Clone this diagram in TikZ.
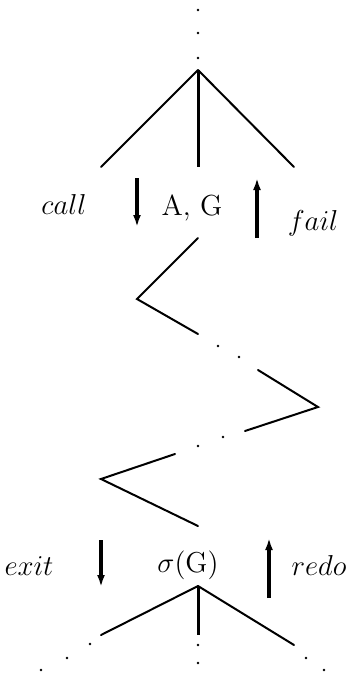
\documentclass[tikz,border=0pt]{standalone}
\usepackage{tikz}
\usetikzlibrary{arrows.meta}

\begin{document}
\begin{tikzpicture}[x=0.5pt, y=-0.5pt,
    leg/.style={line width=1pt, line cap=round},
    stem/.style={line width=1.5pt},
    flow/.style={-{Latex[length=6pt, width=4pt]}, line width=1.6pt},
    port/.style={font=\fontsize{14.5}{17}\selectfont, anchor=base, inner sep=0pt},
    dot/.style={circle, fill=black, inner sep=0pt, minimum size=1.3pt}
]
\useasboundingbox (0,0) rectangle (346,675);

% upper tree
\node[dot] (u1) at (198,10) {};
\node[dot] (u2) at (198,33) {};
\node[dot] (u3) at (198,58) {};
\coordinate (top) at (198,70);
\coordinate (topl) at (101,167);
\coordinate (topm) at (198,167);
\coordinate (topr) at (294,167);
\draw[leg] (top) -- (topl);
\draw[leg] (top) -- (topr);
\draw[stem] (top) -- (topm);

% call / fail port
\node[port] (call) at (64,214) {$call$};
\node[port] (goal) at (192,215) {A, G};
\node[port] (fail) at (313,230) {$fail$};
\coordinate (calla) at (137,178);
\coordinate (callb) at (137,227);
\coordinate (faila) at (257,238);
\coordinate (failb) at (257,178);
\draw[flow] (calla) -- (callb);
\draw[flow] (faila) -- (failb);

% zigzag
\coordinate (z1) at (198,238);
\coordinate (z2) at (137,299);
\coordinate (z3) at (198,334);
\draw[leg] (z1) -- (z2) -- (z3);
\node[dot] (d1) at (218,346) {};
\node[dot] (d2) at (239,357) {};
\coordinate (z4) at (258,370);
\coordinate (z5) at (318,407);
\coordinate (z6) at (245,431);
\draw[leg] (z4) -- (z5) -- (z6);
\node[dot] (d3) at (223,437) {};
\node[dot] (d4) at (198,446) {};
\coordinate (z7) at (175,454);
\coordinate (z8) at (101,479);
\coordinate (z9) at (198,526);
\draw[leg] (z7) -- (z8) -- (z9);

% exit / redo port
\node[port] (exit) at (29,575) {$exit$};
\node[port] (sol) at (188,572) {$\sigma(\mathrm{G})$};
\node[port] (redo) at (319,575) {$redo$};
\coordinate (exita) at (101,540);
\coordinate (exitb) at (101,587);
\coordinate (redoa) at (269,598);
\coordinate (redob) at (269,538);
\draw[flow] (exita) -- (exitb);
\draw[flow] (redoa) -- (redob);

% lower tree
\coordinate (bot) at (198,586);
\coordinate (botl) at (101,635);
\coordinate (botm) at (198,635);
\coordinate (botr) at (294,645);
\draw[leg] (bot) -- (botl);
\draw[leg] (bot) -- (botr);
\draw[stem] (bot) -- (botm);
\node[dot] (l1) at (90,644) {};
\node[dot] (l2) at (67,658) {};
\node[dot] (l3) at (41,670) {};
\node[dot] (m1) at (198,645) {};
\node[dot] (m2) at (198,663) {};
\node[dot] (r1) at (306,658) {};
\node[dot] (r2) at (324,670) {};
\end{tikzpicture}
\end{document}
